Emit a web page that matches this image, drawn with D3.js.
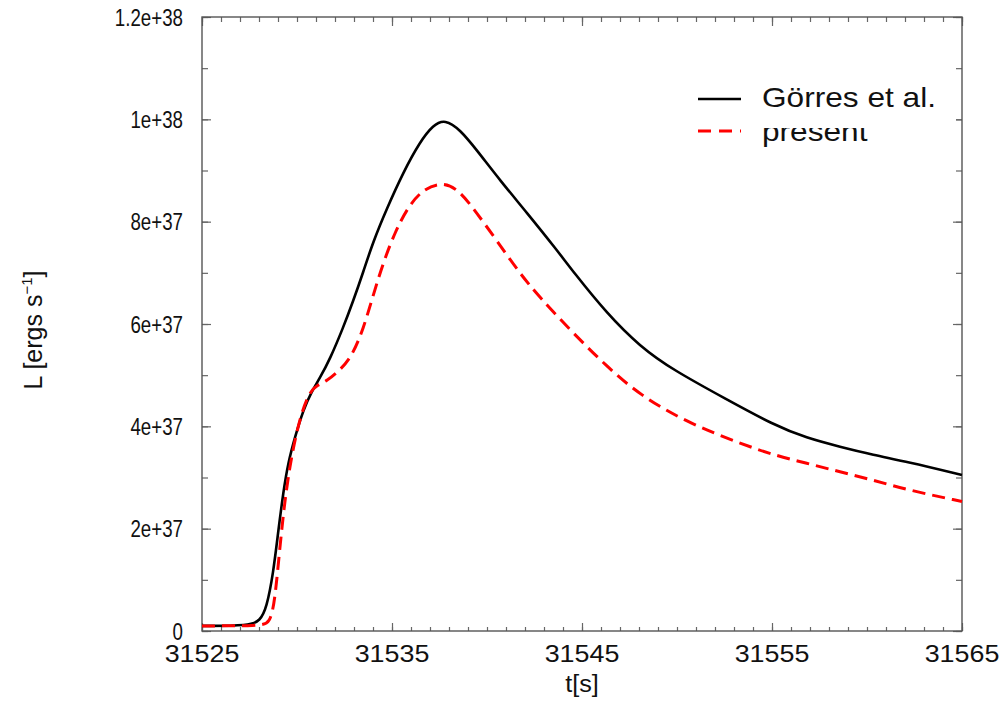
<!DOCTYPE html>
<html>
<head>
<meta charset="utf-8">
<script src="https://cdn.jsdelivr.net/npm/d3@7"></script>
<style>
  html, body { margin: 0; padding: 0; background: #fff; }
  svg text { font-family: "Liberation Sans", Arial, Helvetica, sans-serif; fill: #111; }
</style>
</head>
<body>
<div id="chart"></div>
<script>
// X-ray burst light curve: L vs t

// Görres et al. (solid black), L in units of 1e37 erg/s
var timeGorres = [31525, 31527.5, 31528.05, 31528.4, 31528.75, 31529.0, 31529.28, 31529.54,
  31529.9, 31530.33, 31530.77, 31531.2, 31531.74, 31532.4, 31532.96, 31533.49, 31534.0,
  31534.72, 31535.6, 31536.47, 31537.17, 31537.79, 31538.58, 31539.46, 31540.68, 31542.09,
  31543.67, 31544.54, 31546.3, 31548.05, 31549.8, 31552.6, 31555.07, 31556.83, 31558.58,
  31560.33, 31562.09, 31565];
var lumGorres = [0.1, 0.1, 0.2, 0.45, 1.13, 1.91, 2.72, 3.3,
  3.8, 4.32, 4.68, 4.94, 5.32, 5.9, 6.45, 7.02, 7.6,
  8.25, 8.97, 9.56, 9.89, 10.0, 9.8, 9.40, 8.81, 8.18,
  7.45, 7.02, 6.21, 5.56, 5.10, 4.53, 4.03, 3.77, 3.60,
  3.44, 3.31, 3.05];

// present work (dashed red)
var timePresent = [31525, 31528.05, 31528.58, 31528.84, 31529.1, 31529.37, 31529.63, 31529.9,
  31530.25, 31530.68, 31531.04, 31531.56, 31532.26, 31532.88, 31533.49, 31534.0, 31534.54,
  31535.16, 31535.86, 31536.65, 31537.7, 31538.58, 31539.46, 31540.5, 31541.74, 31542.8,
  31544.54, 31546.3, 31548.05, 31550.5, 31553.3, 31555.07, 31556.83, 31558.58, 31560.33,
  31562.09, 31565];
var lumPresent = [0.1, 0.1, 0.15, 0.6, 1.65, 2.58, 3.23, 3.75,
  4.28, 4.68, 4.8, 4.88, 5.10, 5.36, 5.9, 6.55, 7.2,
  7.8, 8.3, 8.64, 8.78, 8.6, 8.17, 7.64, 6.98, 6.51,
  5.82, 5.17, 4.61, 4.08, 3.67, 3.44, 3.28, 3.11, 2.95,
  2.76, 2.53];

var xTickValues = [31525, 31535, 31545, 31555, 31565];
var yTickValues = [0, 2e37, 4e37, 6e37, 8e37, 1e38, 1.2e38];
var yTickLabels = ['0', '2e+37', '4e+37', '6e+37', '8e+37', '1e+38', '1.2e+38'];
var seriesNames = ['Görres et al.', 'present'];

var W = 1004, H = 704;
var margin = { left: 202, top: 17, right: 42, bottom: 73 };
var innerW = W - margin.left - margin.right;
var innerH = H - margin.top - margin.bottom;

var svg = d3.select('#chart').append('svg')
  .attr('width', W)
  .attr('height', H);

var x = d3.scaleLinear().domain([31525, 31565]).range([0, innerW]);
var y = d3.scaleLinear().domain([0, 1.2e38]).range([innerH, 0]);

var g = svg.append('g').attr('transform', 'translate(' + margin.left + ',' + margin.top + ')');

// ── ticks (inward, on all four sides) ──────────────────────────────────────
var minorX = d3.range(31525, 31566, 1);
var minorY = d3.range(0, 1.21e38, 1e37);
var tickColor = '#666';

function styleAxis(sel) {
  sel.select('.domain').remove();
  sel.selectAll('line').attr('stroke', tickColor).attr('stroke-width', 1.2);
  sel.selectAll('text').remove();
}

g.append('g').attr('transform', 'translate(0,' + innerH + ')')
  .call(d3.axisBottom(x).tickValues(minorX).tickSize(-4).tickFormat(''))
  .call(styleAxis);
g.append('g').attr('transform', 'translate(0,' + innerH + ')')
  .call(d3.axisBottom(x).tickValues(xTickValues).tickSize(-8).tickFormat(''))
  .call(styleAxis);
g.append('g')
  .call(d3.axisTop(x).tickValues(minorX).tickSize(-5).tickFormat(''))
  .call(styleAxis);
g.append('g')
  .call(d3.axisTop(x).tickValues(xTickValues).tickSize(-9).tickFormat(''))
  .call(styleAxis);
g.append('g')
  .call(d3.axisLeft(y).tickValues(minorY).tickSize(-6).tickFormat(''))
  .call(styleAxis);
g.append('g')
  .call(d3.axisLeft(y).tickValues(yTickValues).tickSize(-9).tickFormat(''))
  .call(styleAxis);
g.append('g').attr('transform', 'translate(' + innerW + ',0)')
  .call(d3.axisRight(y).tickValues(minorY).tickSize(-6).tickFormat(''))
  .call(styleAxis);
g.append('g').attr('transform', 'translate(' + innerW + ',0)')
  .call(d3.axisRight(y).tickValues(yTickValues).tickSize(-9).tickFormat(''))
  .call(styleAxis);

// frame
g.append('rect')
  .attr('width', innerW)
  .attr('height', innerH)
  .attr('fill', 'none')
  .attr('stroke', '#555')
  .attr('stroke-width', 1.4);

// ── tick labels ────────────────────────────────────────────────────────────
g.selectAll('.xlab')
  .data(xTickValues)
  .enter().append('text')
  .attr('class', 'xlab')
  .attr('text-anchor', 'middle')
  .attr('font-size', 24)
  .attr('transform', function(d) { return 'translate(' + x(d) + ',' + (innerH + 31) + ') scale(1.12,1)'; })
  .text(function(d) { return d; });

g.selectAll('.ylab')
  .data(yTickValues)
  .enter().append('text')
  .attr('class', 'ylab')
  .attr('text-anchor', 'end')
  .attr('font-size', 24)
  .attr('transform', function(d) { return 'translate(-19,' + (y(d) + 8.5) + ') scale(0.78,1)'; })
  .text(function(d, i) { return yTickLabels[i]; });

// axis titles
svg.append('text')
  .attr('text-anchor', 'middle')
  .attr('font-size', 24)
  .attr('transform', 'translate(' + (margin.left + innerW / 2) + ',692) scale(1.05,1)')
  .text('t[s]');

var yt = svg.append('text')
  .attr('text-anchor', 'middle')
  .attr('font-size', 25)
  .attr('transform', 'translate(42,' + (margin.top + innerH / 2 + 6) + ') rotate(-90)');
yt.append('tspan').text('L [ergs s');
yt.append('tspan').attr('font-size', 15).attr('dy', -10).text('\u22121');
yt.append('tspan').attr('dy', 10).text(']');

// ── curves ─────────────────────────────────────────────────────────────────
var gorres = timeGorres.map(function(t, i) { return [t, lumGorres[i] * 1e37]; });
var present = timePresent.map(function(t, i) { return [t, lumPresent[i] * 1e37]; });

var line = d3.line()
  .x(function(d) { return x(d[0]); })
  .y(function(d) { return y(d[1]); })
  .curve(d3.curveBasis);

g.append('path')
  .datum(gorres)
  .attr('d', line)
  .attr('fill', 'none')
  .attr('stroke', '#000')
  .attr('stroke-width', 2.6);

g.append('path')
  .datum(present)
  .attr('d', line)
  .attr('fill', 'none')
  .attr('stroke', '#ff0000')
  .attr('stroke-width', 3)
  .attr('stroke-dasharray', '13,7');

// ── legend ─────────────────────────────────────────────────────────────────
var leg = svg.append('g');
leg.append('line')
  .attr('x1', 698).attr('x2', 741).attr('y1', 131).attr('y2', 131)
  .attr('stroke', '#ff0000').attr('stroke-width', 3).attr('stroke-dasharray', '13,8');
leg.append('text')
  .attr('font-size', 28)
  .attr('transform', 'translate(762,141) scale(1.13,1)')
  .text(seriesNames[1]);
// white label box of the first entry overlaps the second one
leg.append('rect')
  .attr('x', 741).attr('y', 63).attr('width', 215).attr('height', 65)
  .attr('fill', '#fff');
leg.append('line')
  .attr('x1', 698).attr('x2', 741).attr('y1', 99).attr('y2', 99)
  .attr('stroke', '#000').attr('stroke-width', 2.6);
leg.append('text')
  .attr('font-size', 28)
  .attr('transform', 'translate(762,107) scale(1.13,1)')
  .text(seriesNames[0]);
</script>
</body>
</html>
